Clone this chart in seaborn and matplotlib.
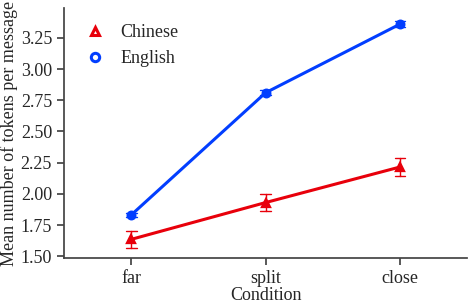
import pandas as pd
import seaborn as sns
import matplotlib.pyplot as plt
from matplotlib.lines import Line2D

conditions = ['far', 'split', 'close']
languages = ['Chinese', 'English']
chinese_mean = [1.635, 1.93, 2.215]
chinese_err = [0.07, 0.065, 0.075]
english_mean = [1.83, 2.81, 3.36]
english_err = [0.015, 0.02, 0.025]
colors = ['#e8000b', '#023eff']
markers = ['^', 'o']

# two rows per point (mean - err, mean + err) so the mean and min/max
# interval reproduce the plotted value and its error bar
rows = []
for lang, means, errs in [('Chinese', chinese_mean, chinese_err),
                          ('English', english_mean, english_err)]:
    for cond, m, e in zip(conditions, means, errs):
        rows.append({'Condition': cond, 'Language': lang, 'tokens': m - e})
        rows.append({'Condition': cond, 'Language': lang, 'tokens': m + e})
data = pd.DataFrame(rows)

sns.set_theme(style='ticks')
plt.rcParams['font.family'] = ['Liberation Serif', 'DejaVu Serif']

fig, ax = plt.subplots(figsize=(4.7, 3.04), dpi=100)
fig.subplots_adjust(left=0.136, right=0.994, bottom=0.151, top=0.974)

sns.pointplot(data=data, x='Condition', y='tokens', hue='Language',
              order=conditions, hue_order=languages,
              palette=colors, markers=markers,
              errorbar=lambda x: (x.min(), x.max()), capsize=0.08,
              err_kws={'linewidth': 1}, linewidth=2.2, markersize=5.5,
              legend=False, ax=ax)

ax.set_ylim(1.485, 3.49)
ax.set_yticks([1.50, 1.75, 2.00, 2.25, 2.50, 2.75, 3.00, 3.25])
ax.set_yticklabels(['%.2f' % v for v in ax.get_yticks()])
ax.tick_params(labelsize=13, length=5, color='#444444')
for s in ax.spines.values():
    s.set_color('#444444')
ax.set_xlabel('Condition', fontsize=13, labelpad=0)
ax.set_ylabel('Mean number of tokens per message', fontsize=13, labelpad=2)

handles = [Line2D([], [], linestyle='none', marker=m, color=c, markersize=6,
                  markerfacecolor='white', markeredgewidth=2.2)
           for m, c in zip(markers, colors)]
ax.legend(handles, languages, loc='upper left', frameon=False, fontsize=13,
          handlelength=1.0, handletextpad=0.9, bbox_to_anchor=(0.015, 1.0))
sns.despine()

plt.savefig('out.png', dpi=100)
